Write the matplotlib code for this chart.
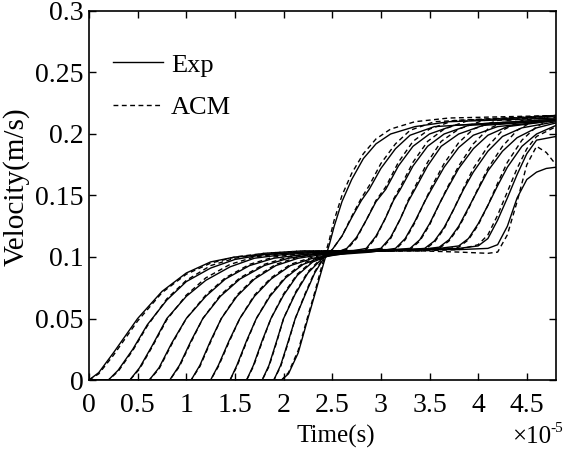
import matplotlib.pyplot as plt

plt.rcParams['font.family'] = ['Liberation Serif', 'DejaVu Serif']

# time in units of 1e-5 s, velocity in m/s
# one list of time knots per measured curve, with Exp and ACM values on those knots
t_knots = [
    [0, 0.1, 0.25, 0.5, 0.75, 1.0, 1.25, 1.5, 1.8, 2.2, 2.6, 3.0, 3.4, 3.8, 4.1, 4.2, 4.3, 4.4, 4.5, 4.6, 4.7, 4.8],
    [0, 0.2, 0.3, 0.45, 0.6, 0.8, 1.0, 1.25, 1.5, 1.8, 2.2, 2.6, 3.0, 3.4, 3.8, 4.0, 4.1, 4.2, 4.3, 4.4, 4.5, 4.6, 4.8],
    [0, 0.42, 0.52, 0.65, 0.8, 1.0, 1.2, 1.45, 1.7, 2.0, 2.4, 2.8, 3.2, 3.6, 3.8, 3.9, 4.0, 4.1, 4.2, 4.3, 4.45, 4.6, 4.8],
    [0, 0.62, 0.72, 0.85, 1.0, 1.2, 1.4, 1.65, 1.9, 2.2, 2.6, 3.0, 3.4, 3.6, 3.7, 3.8, 3.9, 4.0, 4.1, 4.25, 4.4, 4.6, 4.8],
    [0, 0.83, 0.93, 1.05, 1.17, 1.35, 1.55, 1.8, 2.05, 2.3, 2.7, 3.1, 3.45, 3.55, 3.65, 3.75, 3.85, 3.95, 4.1, 4.25, 4.45, 4.8],
    [0, 1.05, 1.14, 1.25, 1.36, 1.52, 1.7, 1.92, 2.15, 2.4, 2.8, 3.3, 3.4, 3.5, 3.6, 3.68, 3.8, 3.95, 4.1, 4.3, 4.8],
    [0, 1.25, 1.33, 1.44, 1.55, 1.7, 1.87, 2.07, 2.3, 2.55, 2.9, 3.15, 3.25, 3.35, 3.45, 3.52, 3.65, 3.8, 3.95, 4.2, 4.8],
    [0, 1.45, 1.52, 1.62, 1.72, 1.86, 2.02, 2.2, 2.4, 2.65, 3.0, 3.1, 3.2, 3.28, 3.35, 3.48, 3.62, 3.8, 4.05, 4.8],
    [0, 1.62, 1.69, 1.78, 1.87, 2.0, 2.14, 2.3, 2.5, 2.85, 2.95, 3.05, 3.13, 3.2, 3.33, 3.48, 3.65, 3.9, 4.8],
    [0, 1.78, 1.85, 1.93, 2.0, 2.12, 2.25, 2.4, 2.55, 2.65, 2.75, 2.85, 2.95, 3.05, 3.18, 3.33, 3.5, 3.75, 4.8],
    [0, 1.9, 1.97, 2.05, 2.12, 2.22, 2.32, 2.42, 2.5, 2.6, 2.7, 2.8, 2.88, 3.0, 3.15, 3.3, 3.55, 4.8],
    [0, 1.98, 2.05, 2.15, 2.25, 2.33, 2.38, 2.42, 2.47, 2.52, 2.6, 2.7, 2.82, 2.95, 3.1, 3.35, 3.7, 4.8],
]

exp_v = [
    [0, 0.006, 0.022, 0.05, 0.072, 0.087, 0.096, 0.1, 0.102, 0.104, 0.105, 0.105, 0.106, 0.106, 0.107, 0.11, 0.125, 0.148, 0.163, 0.169, 0.172, 0.173],
    [0, 0, 0.008, 0.025, 0.045, 0.065, 0.08, 0.091, 0.098, 0.102, 0.104, 0.105, 0.106, 0.106, 0.107, 0.109, 0.115, 0.13, 0.148, 0.167, 0.184, 0.195, 0.198],
    [0, 0, 0.01, 0.028, 0.05, 0.068, 0.081, 0.092, 0.099, 0.102, 0.104, 0.105, 0.106, 0.107, 0.109, 0.115, 0.127, 0.142, 0.158, 0.173, 0.19, 0.2, 0.207],
    [0, 0, 0.01, 0.03, 0.05, 0.068, 0.082, 0.093, 0.099, 0.102, 0.104, 0.105, 0.106, 0.108, 0.114, 0.125, 0.14, 0.155, 0.17, 0.186, 0.197, 0.205, 0.209],
    [0, 0, 0.012, 0.032, 0.05, 0.068, 0.082, 0.093, 0.099, 0.102, 0.104, 0.105, 0.107, 0.113, 0.124, 0.139, 0.155, 0.169, 0.186, 0.198, 0.205, 0.21],
    [0, 0, 0.012, 0.032, 0.05, 0.068, 0.082, 0.093, 0.099, 0.102, 0.104, 0.107, 0.114, 0.127, 0.143, 0.155, 0.172, 0.188, 0.199, 0.206, 0.211],
    [0, 0, 0.012, 0.032, 0.05, 0.068, 0.082, 0.093, 0.099, 0.102, 0.104, 0.107, 0.115, 0.129, 0.145, 0.155, 0.173, 0.189, 0.199, 0.206, 0.211],
    [0, 0, 0.012, 0.032, 0.05, 0.068, 0.083, 0.094, 0.1, 0.103, 0.107, 0.116, 0.131, 0.145, 0.155, 0.174, 0.19, 0.2, 0.207, 0.211],
    [0, 0, 0.012, 0.032, 0.05, 0.069, 0.085, 0.096, 0.102, 0.107, 0.117, 0.132, 0.146, 0.155, 0.174, 0.19, 0.2, 0.207, 0.211],
    [0, 0, 0.012, 0.032, 0.05, 0.07, 0.087, 0.099, 0.104, 0.107, 0.116, 0.13, 0.145, 0.155, 0.174, 0.19, 0.2, 0.207, 0.212],
    [0, 0, 0.012, 0.032, 0.05, 0.069, 0.087, 0.1, 0.106, 0.117, 0.132, 0.146, 0.155, 0.172, 0.188, 0.199, 0.206, 0.212],
    [0, 0, 0.005, 0.022, 0.05, 0.072, 0.086, 0.097, 0.11, 0.125, 0.145, 0.163, 0.18, 0.192, 0.2, 0.206, 0.21, 0.213],
]

acm_v = [
    [0, 0.005, 0.02, 0.048, 0.071, 0.086, 0.095, 0.1, 0.103, 0.105, 0.105, 0.105, 0.105, 0.104, 0.103, 0.104, 0.118, 0.145, 0.175, 0.19, 0.185, 0.175],
    [0, 0, 0.007, 0.024, 0.044, 0.066, 0.081, 0.093, 0.099, 0.103, 0.105, 0.105, 0.105, 0.105, 0.106, 0.11, 0.118, 0.134, 0.153, 0.172, 0.188, 0.198, 0.206],
    [0, 0, 0.009, 0.027, 0.049, 0.069, 0.083, 0.094, 0.1, 0.103, 0.105, 0.105, 0.105, 0.106, 0.108, 0.114, 0.126, 0.142, 0.16, 0.177, 0.195, 0.206, 0.214],
    [0, 0, 0.009, 0.029, 0.05, 0.069, 0.083, 0.094, 0.1, 0.103, 0.105, 0.105, 0.105, 0.107, 0.113, 0.124, 0.139, 0.156, 0.172, 0.19, 0.203, 0.212, 0.215],
    [0, 0, 0.011, 0.031, 0.05, 0.069, 0.083, 0.094, 0.1, 0.103, 0.105, 0.105, 0.106, 0.112, 0.123, 0.139, 0.156, 0.172, 0.19, 0.203, 0.211, 0.215],
    [0, 0, 0.011, 0.031, 0.05, 0.069, 0.083, 0.094, 0.1, 0.103, 0.105, 0.106, 0.113, 0.126, 0.143, 0.156, 0.174, 0.192, 0.204, 0.211, 0.215],
    [0, 0, 0.011, 0.031, 0.05, 0.069, 0.083, 0.094, 0.1, 0.103, 0.105, 0.106, 0.114, 0.128, 0.145, 0.157, 0.176, 0.193, 0.204, 0.211, 0.215],
    [0, 0, 0.011, 0.031, 0.05, 0.069, 0.084, 0.095, 0.101, 0.104, 0.106, 0.115, 0.131, 0.146, 0.157, 0.177, 0.194, 0.204, 0.211, 0.215],
    [0, 0, 0.011, 0.031, 0.05, 0.07, 0.086, 0.097, 0.103, 0.106, 0.116, 0.132, 0.147, 0.157, 0.177, 0.194, 0.204, 0.211, 0.215],
    [0, 0, 0.011, 0.031, 0.05, 0.071, 0.088, 0.1, 0.105, 0.106, 0.115, 0.13, 0.146, 0.157, 0.177, 0.194, 0.204, 0.211, 0.215],
    [0, 0, 0.011, 0.031, 0.05, 0.07, 0.088, 0.101, 0.106, 0.117, 0.133, 0.148, 0.158, 0.176, 0.192, 0.203, 0.21, 0.215],
    [0, 0, 0.006, 0.024, 0.052, 0.074, 0.089, 0.1, 0.114, 0.13, 0.15, 0.168, 0.184, 0.196, 0.204, 0.21, 0.213, 0.215],
]

x_ticks = [0, 0.5, 1, 1.5, 2, 2.5, 3, 3.5, 4, 4.5]
x_labels = ['0', '0.5', '1', '1.5', '2', '2.5', '3', '3.5', '4', '4.5']
y_ticks = [0, 0.05, 0.1, 0.15, 0.2, 0.25, 0.3]
y_labels = ['0', '0.05', '0.1', '0.15', '0.2', '0.25', '0.3']

fig = plt.figure(figsize=(5.67, 4.51), dpi=100)
ax = fig.add_axes([89 / 567, 71 / 451, 467 / 567, 369 / 451])

for i in range(len(t_knots)):
    lab_e = 'Exp' if i == 0 else None
    lab_a = 'ACM' if i == 0 else None
    ax.plot(t_knots[i], exp_v[i], color='black', lw=1.0, label=lab_e)
    ax.plot(t_knots[i], acm_v[i], color='black', lw=1.0, ls=(0, (3.5, 2.5)), label=lab_a)

ax.set_xlim(0, 4.8)
ax.set_ylim(0, 0.3)
ax.set_xticks(x_ticks)
ax.set_xticklabels(x_labels)
ax.set_yticks(y_ticks)
ax.set_yticklabels(y_labels)
ax.tick_params(direction='in', top=True, right=True, length=5, width=1,
               labelsize=20, pad=4)
ax.tick_params(axis='x', pad=9)
for sp in ax.spines.values():
    sp.set_linewidth(1.2)

ax.set_xlabel('Time(s)', fontsize=18)
ax.xaxis.set_label_coords(0.528, -0.123)
ax.set_ylabel('Velocity(m/s)', fontsize=21)
ax.yaxis.set_label_coords(-0.128, 0.523)

# axis multiplier, drawn as "x10" plus a small raised "-5"
ax.text(0.906, -0.171, '\u00d710', transform=ax.transAxes,
        fontsize=18, va='baseline', ha='left')
ax.text(0.989, -0.141, '-5', transform=ax.transAxes,
        fontsize=11, va='baseline', ha='left')

ax.legend(loc='upper left', bbox_to_anchor=(0.0, 0.95), frameon=False,
          fontsize=19, handlelength=1.9, handletextpad=0.3, labelspacing=0.72)

fig.savefig('out.png', dpi=100)
